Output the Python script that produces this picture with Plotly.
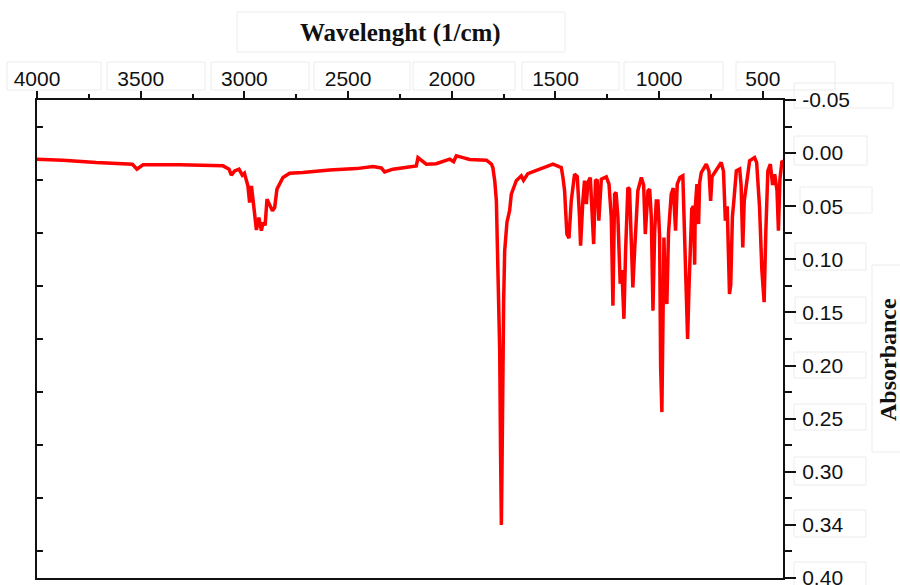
import plotly.graph_objects as go

# ---- data ----
wavenumber = [4000, 3875, 3714, 3569, 3540, 3518, 3489, 3312, 3103, 3074, 3063, 3047, 3026, 3010, 3000,
              2983, 2975, 2966, 2955, 2942, 2930, 2918, 2910, 2900, 2891, 2878, 2865, 2854, 2843, 2814,
              2782, 2718, 2589, 2460, 2380, 2340, 2324, 2284, 2171, 2163, 2150, 2135, 2123, 2075, 2040,
              2010, 1991, 1978, 1946, 1914, 1833, 1809, 1802, 1793, 1785, 1778, 1769, 1765, 1761, 1758,
              1756, 1750, 1745, 1734, 1721, 1713, 1689, 1665, 1654, 1633, 1576, 1528, 1512, 1480, 1472,
              1464, 1456, 1451, 1445, 1435, 1424, 1408, 1395, 1384, 1379, 1368, 1360, 1351, 1344, 1332,
              1323, 1316, 1307, 1299, 1291, 1279, 1255, 1242, 1231, 1223, 1215, 1208, 1199, 1188, 1180,
              1170, 1162, 1151, 1143, 1134, 1127, 1118, 1103, 1086, 1075, 1067, 1054, 1046, 1038, 1030,
              1022, 1014, 1006, 998, 993, 987, 982, 977, 972, 963, 955, 942, 932, 921, 913,
              900, 886, 878, 871, 863, 856, 849, 843, 835, 829, 826, 818, 810, 805, 797,
              773, 760, 752, 745, 701, 690, 681, 672, 661, 655, 647, 640, 628, 612, 605,
              597, 590, 564, 540, 530, 516, 505, 494, 486, 476, 464, 453, 443, 432, 425,
              418, 408, 404]
absorbance = [0.0057, 0.0067, 0.0089, 0.0099, 0.0105, 0.0151, 0.011, 0.011, 0.012, 0.0151, 0.0208, 0.0167, 0.0151, 0.0208, 0.019,
              0.0308, 0.0465, 0.0308, 0.048, 0.0724, 0.0606, 0.0731, 0.0653, 0.068, 0.0433, 0.048, 0.0543, 0.0512, 0.0339, 0.023,
              0.0189, 0.0183, 0.016, 0.0146, 0.0127, 0.014, 0.0177, 0.0151, 0.012, 0.0042, 0.006, 0.009, 0.0104, 0.010, 0.008,
              0.0057, 0.008, 0.0026, 0.0042, 0.006, 0.0067, 0.0104, 0.0136, 0.026, 0.045, 0.1076, 0.186, 0.28, 0.350, 0.30,
              0.217, 0.14, 0.092, 0.065, 0.054, 0.0386, 0.026, 0.0214, 0.0255, 0.0193, 0.0151, 0.011, 0.0104, 0.013, 0.0136,
              0.023, 0.0355, 0.0543, 0.0762, 0.080, 0.045, 0.0198, 0.022, 0.0606, 0.0872, 0.045, 0.026, 0.048, 0.0277, 0.023,
              0.070, 0.0856, 0.026, 0.025, 0.0637, 0.0245, 0.0224, 0.0292, 0.0606, 0.1436, 0.0386, 0.037, 0.0606, 0.123, 0.110,
              0.156, 0.0919, 0.0324, 0.034, 0.0762, 0.1264, 0.090, 0.0355, 0.023, 0.030, 0.0762, 0.0355, 0.034, 0.060, 0.1483,
              0.075, 0.045, 0.045, 0.078, 0.2015, 0.2438, 0.18, 0.0794, 0.125, 0.142, 0.075, 0.0386, 0.033, 0.0731, 0.0292,
              0.023, 0.0214, 0.0731, 0.115, 0.1749, 0.125, 0.073, 0.0527, 0.050, 0.105, 0.0512, 0.0292, 0.0668, 0.028, 0.0183,
              0.0104, 0.017, 0.045, 0.022, 0.0089, 0.017, 0.0637, 0.050, 0.1326, 0.124, 0.060, 0.045, 0.0167, 0.015, 0.030,
              0.0888, 0.045, 0.0073, 0.0042, 0.009, 0.0512, 0.110, 0.1404, 0.075, 0.0167, 0.0104, 0.030, 0.0198, 0.035, 0.0731,
              0.025, 0.0073, 0.008]

x_tickvals = [4000, 3500, 3000, 2500, 2000, 1500, 1000, 500]
x_ticktext = ["4000", "3500", "3000", "2500", "2000", "1500", "1000", "500"]
x_minor_ticks = [3750, 3250, 2750, 2250, 1750, 1250, 750]
y_tickvals = [-0.05, 0.00, 0.05, 0.10, 0.15, 0.20, 0.25, 0.30, 0.35, 0.40]
y_ticktext = ["-0.05", "0.00", "0.05", "0.10", "0.15", "0.20", "0.25", "0.30", "0.34", "0.40"]
y_left_ticks = [-0.025, 0.025, 0.075, 0.125, 0.175, 0.225, 0.275, 0.325, 0.375]

x_title = "Wavelenght (1/cm)"
y_title = "Absorbance"

# ---- geometry ----
W, H = 900, 585
ML, MR, MT, MB = 37, 117, 100, 7
PW, PH = W - ML - MR, H - MT - MB


def px(x):
    return (x - ML) / PW


def py(y):
    return (H - MB - y) / PH


fig = go.Figure()
fig.add_trace(go.Scatter(
    x=wavenumber, y=absorbance, mode="lines",
    line=dict(color="#ff0000", width=3.5), hoverinfo="skip", showlegend=False))
# same data on the left (tick-only) axis so that axis gets drawn; invisible
fig.add_trace(go.Scatter(
    x=wavenumber, y=absorbance, mode="lines", yaxis="y2", opacity=0,
    line=dict(color="#ff0000", width=0), hoverinfo="skip", showlegend=False))

tick_font = dict(family="Liberation Sans, Arial, sans-serif", size=21, color="#111")

fig.update_layout(
    width=W, height=H,
    margin=dict(l=ML, r=MR, t=MT, b=MB, autoexpand=False),
    paper_bgcolor="white", plot_bgcolor="white",
    showlegend=False,
    xaxis=dict(
        side="top", range=[4000, 403], autorange=False, automargin=False,
        tickmode="array", tickvals=x_tickvals, ticktext=x_ticktext,
        ticks="outside", ticklen=7, tickwidth=2, tickcolor="#111",
        minor=dict(tickmode="array", tickvals=x_minor_ticks,
                   ticks="outside", ticklen=4, tickwidth=2, tickcolor="#111", showgrid=False),
        showline=True, linecolor="#111", linewidth=2, mirror=True,
        showgrid=False, zeroline=False, tickfont=tick_font, ticklabelstandoff=-3,
        ticklabeloverflow="allow",
    ),
    yaxis=dict(
        side="right", range=[0.40, -0.05], autorange=False, automargin=False,
        tickmode="array", tickvals=y_tickvals, ticktext=y_ticktext,
        ticks="outside", ticklen=11, tickwidth=2, tickcolor="#111",
        minor=dict(tickmode="array", tickvals=y_left_ticks,
                   ticks="outside", ticklen=7, tickwidth=2, tickcolor="#111", showgrid=False),
        showline=True, linecolor="#111", linewidth=2, mirror=True,
        showgrid=False, zeroline=False, tickfont=tick_font, ticklabelstandoff=2,
        ticklabeloverflow="allow",
    ),
    yaxis2=dict(
        overlaying="y", side="left", range=[0.40, -0.05], autorange=False, automargin=False,
        tickmode="array", tickvals=y_left_ticks, showticklabels=False,
        ticks="inside", ticklen=6, tickwidth=2, tickcolor="#111",
        showline=False, showgrid=False, zeroline=False,
    ),
)

# faint label frames seen in the reference
frames = [
    (237, 12, 565, 52),
    (7, 62, 101, 90), (107, 62, 205, 90), (211, 62, 309, 90), (314, 62, 410, 90),
    (413, 62, 515, 90), (522, 62, 619, 90), (624, 62, 723, 90), (736, 62, 835, 90),
    (794, 83, 893, 108), (794, 136, 867, 165), (800, 187, 872, 213), (795, 243, 866, 270),
    (795, 297, 866, 323), (794, 352, 866, 378), (794, 404, 866, 430), (794, 457, 866, 485),
    (794, 510, 866, 537), (794, 562, 866, 590), (872, 265, 905, 452),
]
for x0, y0, x1, y1 in frames:
    fig.add_shape(type="rect", xref="paper", yref="paper",
                  x0=px(x0), x1=px(x1), y0=py(y1), y1=py(y0),
                  line=dict(color="#ececec", width=1), fillcolor="rgba(0,0,0,0)", layer="below")

fig.add_annotation(text="<b>" + x_title + "</b>", xref="paper", yref="paper",
                   x=px(400), y=py(33), xanchor="center", yanchor="middle", showarrow=False,
                   font=dict(family="Liberation Serif, Times New Roman, serif", size=25, color="#111"))
fig.add_annotation(text="<b>" + y_title + "</b>", xref="paper", yref="paper",
                   x=px(888), y=py(360), xanchor="center", yanchor="middle", showarrow=False,
                   textangle=-90,
                   font=dict(family="Liberation Serif, Times New Roman, serif", size=24, color="#111"))

fig.write_html("out.html",
               config={"displayModeBar": False},
               post_script="document.body.style.margin='0';document.body.style.overflow='hidden';")
